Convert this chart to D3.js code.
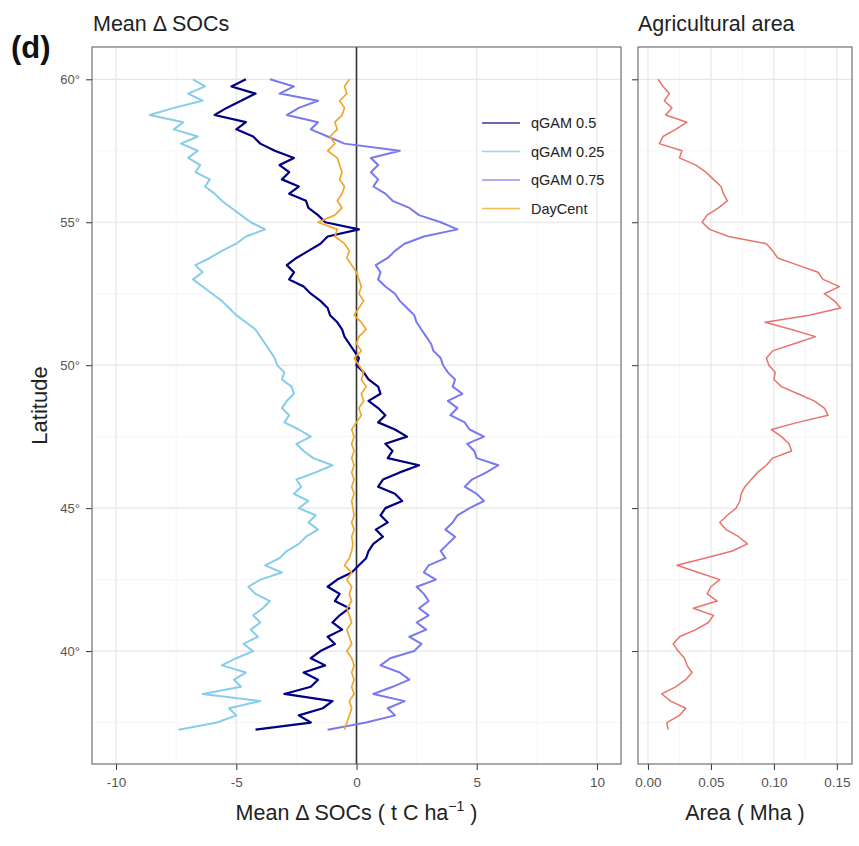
<!DOCTYPE html>
<html>
<head>
<meta charset="utf-8">
<script src="https://cdn.jsdelivr.net/npm/d3@7"></script>
<style>
  body { margin: 0; background: #fff; }
  text { font-family: "Liberation Sans", Arial, sans-serif; }
</style>
</head>
<body>
<svg width="859" height="846"></svg>
<script>
// latitude grid, 60°N down to 37.25°N every 0.25°
const lat = d3.range(60, 37.2, -0.25);

const q50 = [
  -4.6, -5.2, -4.2, -4.8, -5.4, -5.9, -4.6, -5.0,
  -4.3, -4.0, -3.4, -2.6, -3.2, -2.8, -3.1, -2.4,
  -2.8, -2.1, -2.0, -1.6, -1.3, 0.1, -1.2, -1.5,
  -2.0, -2.5, -2.9, -2.6, -2.8, -2.2, -1.9, -1.5,
  -1.2, -1.1, -0.8, -0.6, -0.5, -0.3, -0.1, 0.1,
  0.0, 0.3, 0.5, 0.9, 1.0, 0.5, 0.9, 1.2,
  0.9, 1.6, 2.1, 1.2, 1.5, 1.3, 2.6, 1.8,
  1.1, 0.9, 1.6, 1.9, 1.2, 1.0, 1.3, 0.8,
  1.1, 0.7, 0.5, 0.4, 0.1, -0.2, -0.8, -1.2,
  -0.7, -0.9, -0.3, -0.7, -1.0, -0.6, -1.2, -0.9,
  -1.5, -1.9, -1.3, -2.2, -1.6, -1.9, -3.0, -1.0,
  -1.4, -2.4, -1.9, -4.2
];

const q25 = [
  -6.8, -6.3, -7.0, -6.4, -7.6, -8.6, -7.2, -7.6,
  -6.6, -7.3, -6.6, -7.0, -6.5, -6.7, -6.1, -6.3,
  -5.9, -5.6, -5.2, -4.8, -4.4, -3.8, -4.6, -5.0,
  -5.6, -6.1, -6.7, -6.4, -6.8, -6.4, -6.0, -5.6,
  -5.3, -5.0, -4.6, -4.2, -4.0, -3.8, -3.6, -3.4,
  -3.3, -3.0, -3.1, -2.7, -2.6, -2.9, -3.1, -2.8,
  -3.0, -2.4, -1.9, -2.5, -2.2, -1.8, -1.0, -1.7,
  -2.5, -2.3, -2.6, -2.0, -2.4, -1.7, -2.0, -1.6,
  -2.1, -2.4, -2.9, -3.2, -3.8, -3.1, -4.0, -4.5,
  -4.2, -3.6, -3.9, -4.3, -4.0, -4.4, -4.1, -4.7,
  -4.3, -5.0, -5.6, -4.6, -5.1, -4.8, -6.4, -4.0,
  -5.3, -5.0, -5.8, -7.4
];

const q75 = [
  -3.6, -2.6, -3.2, -1.6, -2.4, -2.9, -1.6, -1.9,
  -1.2, -0.5, 1.8, 0.6, 0.9, 0.6, 0.9, 0.7,
  1.2, 1.5, 2.2, 2.6, 3.5, 4.2, 2.8, 2.0,
  1.6, 1.3, 0.8, 1.0, 0.9, 1.2, 1.6, 1.8,
  2.1, 2.4, 2.5, 2.7, 2.9, 3.1, 3.2, 3.5,
  3.6, 3.8, 4.1, 4.0, 4.4, 3.8, 4.2, 3.9,
  4.5, 4.7, 5.3, 4.6, 4.9, 5.0, 5.9, 5.4,
  4.8, 4.5, 5.0, 5.3, 4.7, 4.2, 4.0, 3.7,
  4.1, 3.8, 3.5, 3.7, 3.0, 2.8, 3.3, 2.5,
  2.8, 3.0, 2.6, 3.0, 2.5, 2.9, 2.2, 2.7,
  2.4, 1.4, 1.0, 1.8, 2.2, 1.5, 0.7, 2.0,
  1.3, 1.6, 0.4, -1.2
];

const dayCent = [
  -0.3, -0.5, -0.4, -0.7, -0.5, -0.6, -0.9, -0.8,
  -1.1, -0.9, -1.2, -0.8, -0.7, -0.6, -0.7, -0.5,
  -0.6, -0.8, -0.6, -0.9, -1.6, -0.8, -0.9, -0.5,
  -0.3, -0.4, -0.2, 0.0, 0.1, 0.2, 0.1, 0.3,
  0.1, -0.1, 0.2, 0.4, 0.1, 0.0, 0.2, -0.1,
  0.1, 0.3, 0.2, 0.4, 0.2, 0.3, 0.1, 0.2,
  0.0, -0.2, -0.1, -0.2, -0.1, -0.2, -0.1, -0.2,
  -0.1, -0.2, -0.1, -0.2, -0.15, -0.1, -0.2, -0.1,
  -0.2, -0.15, -0.2, -0.3, -0.5, -0.2, -0.4, -0.2,
  -0.3, -0.2, -0.4, -0.3, -0.2, -0.4, -0.3, -0.2,
  -0.4, -0.2, -0.1, -0.2, -0.1, -0.2, -0.1, -0.3,
  -0.2, -0.3, -0.4, -0.5
];

const area = [
  0.008, 0.012, 0.017, 0.013, 0.019, 0.014, 0.031, 0.022,
  0.012, 0.009, 0.027, 0.025, 0.038, 0.046, 0.052, 0.058,
  0.060, 0.063, 0.056, 0.047, 0.043, 0.049, 0.064, 0.094,
  0.099, 0.103, 0.119, 0.135, 0.139, 0.152, 0.140, 0.148,
  0.153, 0.128, 0.093, 0.114, 0.133, 0.116, 0.099, 0.094,
  0.096, 0.101, 0.100, 0.106, 0.119, 0.132, 0.140, 0.143,
  0.119, 0.098, 0.106, 0.112, 0.114, 0.099, 0.094, 0.087,
  0.082, 0.077, 0.074, 0.073, 0.070, 0.063, 0.057, 0.062,
  0.072, 0.079, 0.067, 0.045, 0.023, 0.040, 0.057, 0.050,
  0.047, 0.055, 0.036, 0.052, 0.048, 0.038, 0.025, 0.020,
  0.024, 0.029, 0.031, 0.035, 0.030, 0.022, 0.011, 0.018,
  0.030, 0.025, 0.015, 0.016
];

const seriesNames = ["qGAM 0.5", "qGAM 0.25", "qGAM 0.75", "DayCent"];
const seriesValues = [q50, q25, q75, dayCent];
const seriesColors = ["#000080", "#87cdea", "#7878f0", "#f2a72b"];
const drawOrder = [1, 2, 0, 3];

const latTicks = [60, 55, 50, 45, 40];
const latMinor = [57.5, 52.5, 47.5, 42.5, 37.5];
const socTicks = [-10, -5, 0, 5, 10];
const socMinor = [-7.5, -2.5, 2.5, 7.5];
const areaTicks = [0, 0.05, 0.10, 0.15];
const areaMinor = [0.025, 0.075, 0.125];

const svg = d3.select("svg");
const yTop = 47, yBottom = 764;

const y = d3.scaleLinear().domain([61.13, 36.05]).range([yTop, yBottom]);
const x = d3.scaleLinear().domain([-11, 11]).range([92, 621]);
const xa = d3.scaleLinear().domain([-0.0079, 0.162]).range([638, 852]);

function panel(xs, major, minor, fmt) {
  const g = svg.append("g");
  const [x0, x1] = xs.range();
  // grid
  g.selectAll(".hmin").data(latMinor).enter().append("line")
    .attr("x1", x0).attr("x2", x1).attr("y1", d => y(d)).attr("y2", d => y(d))
    .attr("stroke", "#f2f2f2").attr("stroke-width", 0.7);
  g.selectAll(".vmin").data(minor).enter().append("line")
    .attr("y1", yTop).attr("y2", yBottom).attr("x1", d => xs(d)).attr("x2", d => xs(d))
    .attr("stroke", "#f2f2f2").attr("stroke-width", 0.7);
  g.selectAll(".hmaj").data(latTicks).enter().append("line")
    .attr("x1", x0).attr("x2", x1).attr("y1", d => y(d)).attr("y2", d => y(d))
    .attr("stroke", "#e6e6e6").attr("stroke-width", 1.2);
  g.selectAll(".vmaj").data(major).enter().append("line")
    .attr("y1", yTop).attr("y2", yBottom).attr("x1", d => xs(d)).attr("x2", d => xs(d))
    .attr("stroke", "#e6e6e6").attr("stroke-width", 1.2);

  // bottom axis
  const ax = svg.append("g")
    .attr("transform", `translate(0,${yBottom})`)
    .call(d3.axisBottom(xs).tickValues(major).tickFormat(fmt).tickSize(6).tickPadding(7));
  ax.select(".domain").remove();
  ax.selectAll(".tick line").attr("stroke", "#333");
  ax.selectAll(".tick text").attr("fill", "#555").attr("font-size", 13.5)
    .attr("font-family", "Liberation Sans, Arial, sans-serif");

  // left ticks
  const ay = svg.append("g")
    .attr("transform", `translate(${x0},0)`)
    .call(d3.axisLeft(y).tickValues(latTicks).tickFormat(d => d + "°").tickSize(6).tickPadding(6));
  ay.select(".domain").remove();
  ay.selectAll(".tick line").attr("stroke", "#333");
  ay.selectAll(".tick text").attr("fill", "#555").attr("font-size", 13)
    .attr("font-family", "Liberation Sans, Arial, sans-serif");
  return { g, ay };
}

const left = panel(x, socTicks, socMinor, d => String(d));
const right = panel(xa, areaTicks, areaMinor, d => d.toFixed(2));
right.ay.selectAll(".tick text").remove();

// zero line
svg.append("line")
  .attr("x1", x(0)).attr("x2", x(0)).attr("y1", yTop).attr("y2", yBottom)
  .attr("stroke", "#333").attr("stroke-width", 1.6);

// series
drawOrder.forEach(i => {
  const line = d3.line().x(d => x(d)).y((d, j) => y(lat[j]));
  svg.append("path")
    .datum(seriesValues[i])
    .attr("fill", "none")
    .attr("stroke", seriesColors[i])
    .attr("stroke-width", i === 0 ? 2.2 : i === 3 ? 1.7 : 2)
    .attr("stroke-linejoin", "round")
    .attr("d", line);
});

svg.append("path")
  .datum(area)
  .attr("fill", "none")
  .attr("stroke", "#e9736b")
  .attr("stroke-width", 1.5)
  .attr("stroke-linejoin", "round")
  .attr("d", d3.line().x(d => xa(d)).y((d, j) => y(lat[j])));

// panel borders
[x, xa].forEach(s => {
  const [x0, x1] = s.range();
  svg.append("rect")
    .attr("x", x0).attr("y", yTop).attr("width", x1 - x0).attr("height", yBottom - yTop)
    .attr("fill", "none").attr("stroke", "#555").attr("stroke-width", 1);
});

// legend
const leg = svg.append("g");
seriesNames.forEach((name, i) => {
  const ly = 123 + i * 28.5;
  leg.append("line")
    .attr("x1", 482).attr("x2", 520).attr("y1", ly).attr("y2", ly)
    .attr("stroke", seriesColors[i]).attr("stroke-width", 1.4).attr("opacity", 0.8);
  leg.append("text")
    .attr("x", 531).attr("y", ly).attr("dy", "0.35em")
    .attr("font-size", 14.5).attr("fill", "#222").text(name);
});

// titles
svg.append("text").attr("x", 93).attr("y", 31).attr("font-size", 21.5).attr("fill", "#222")
  .text("Mean Δ SOCs");
svg.append("text").attr("x", 638).attr("y", 31).attr("font-size", 21.5).attr("fill", "#222")
  .text("Agricultural area");
svg.append("text").attr("x", 11).attr("y", 58).attr("font-size", 31).attr("font-weight", "bold")
  .attr("fill", "#111").text("(d)");

svg.append("text")
  .attr("transform", `translate(47,${(yTop + yBottom) / 2}) rotate(-90)`)
  .attr("text-anchor", "middle").attr("font-size", 22).attr("fill", "#222")
  .text("Latitude");

const xt = svg.append("text")
  .attr("x", x(0)).attr("y", 820).attr("text-anchor", "middle")
  .attr("font-size", 21.5).attr("fill", "#222");
xt.append("tspan").text("Mean Δ SOCs ( t C ha");
xt.append("tspan").attr("dy", -9).attr("font-size", 14).text("−1");
xt.append("tspan").attr("dy", 9).text(" )");

svg.append("text")
  .attr("x", (638 + 852) / 2).attr("y", 820).attr("text-anchor", "middle")
  .attr("font-size", 21.5).attr("fill", "#222")
  .text("Area ( Mha )");
</script>
</body>
</html>
